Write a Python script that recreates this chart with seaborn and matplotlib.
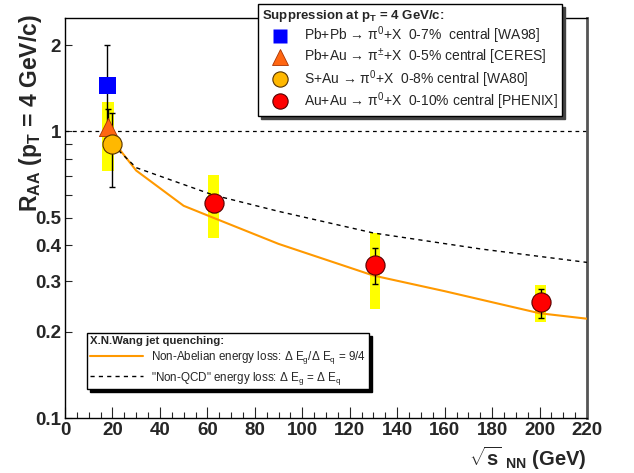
import numpy as np
import pandas as pd
import matplotlib
matplotlib.use("Agg")
import matplotlib.pyplot as plt
import seaborn as sns
from matplotlib.lines import Line2D
from matplotlib.ticker import FixedLocator, NullFormatter

# ---------------- data ----------------
wa98_x = [17.9]
wa98_y = [1.44]
wa98_lo = [0.95]
wa98_hi = [2.0]

ceres_x = [18.2]
ceres_y = [1.035]
ceres_lo = [0.90]
ceres_hi = [1.20]
ceres_band_lo = [0.727]
ceres_band_hi = [1.266]

wa80_x = [19.8]
wa80_y = [0.90]
wa80_lo = [0.642]
wa80_hi = [1.156]

phenix_x = [62.6, 130.6, 200.5]
phenix_y = [0.561, 0.343, 0.253]
phenix_lo = [0.522, 0.293, 0.224]
phenix_hi = [0.602, 0.392, 0.283]
phenix_band_lo = [0.424, 0.241, 0.216]
phenix_band_hi = [0.702, 0.442, 0.292]

nonab_x = [20, 30, 50, 62.4, 90, 100, 130, 160, 200, 220]
nonab_y = [0.93, 0.73, 0.55, 0.50, 0.405, 0.38, 0.314, 0.277, 0.232, 0.222]

nonqcd_x = [20, 30, 62.4, 90, 130, 175, 220]
nonqcd_y = [0.90, 0.747, 0.60, 0.526, 0.442, 0.389, 0.349]

x_ticks = list(range(0, 221, 20))
y_ticks = [0.1, 0.2, 0.3, 0.4, 0.5, 1, 2]
y_tick_labels = ["0.1", "0.2", "0.3", "0.4", "0.5", "1", "2"]
y_minor = [0.6, 0.7, 0.8, 0.9]

legend1_labels = [
    r"Pb+Pb → π$^0$+X  0-7%  central [WA98]",
    r"Pb+Au → π$^{\pm}$+X  0-5% central [CERES]",
    r"S+Au → π$^0$+X  0-8% central [WA80]",
    r"Au+Au → π$^0$+X  0-10% central [PHENIX]",
]
legend2_labels = [
    r"Non-Abelian energy loss: Δ E$_{\rm g}$/Δ E$_{\rm q}$ = 9/4",
    r'"Non-QCD" energy loss: Δ E$_{\rm g}$ = Δ E$_{\rm q}$',
]

# ---------------- style ----------------
sns.set_theme(style="ticks")
plt.rcParams['font.family'] = ['Liberation Sans', 'DejaVu Sans']
plt.rcParams['mathtext.fontset'] = 'custom'
plt.rcParams['mathtext.rm'] = 'Liberation Sans'
plt.rcParams['mathtext.it'] = 'Liberation Sans:italic'
plt.rcParams['mathtext.bf'] = 'Liberation Sans:bold'
plt.rcParams['mathtext.sf'] = 'Liberation Sans'

fig = plt.figure(figsize=(6.34, 4.73), dpi=100)
ax = fig.add_axes([65 / 634, 1 - 418 / 473, 522 / 634, (418 - 18.3) / 473])
ax.set_yscale('log')
ax.set_xlim(0, 220)
ax.set_ylim(0.1, 2.48)

yellow = '#ffff00'
# systematic bands
band_x = ceres_x + phenix_x
band_lo = np.array(ceres_band_lo + phenix_band_lo)
band_hi = np.array(ceres_band_hi + phenix_band_hi)
band_w = [5.0, 4.4, 4.4, 4.6]
ax.bar(band_x, band_hi - band_lo, bottom=band_lo, width=band_w,
       color=yellow, edgecolor='none', zorder=1)

# reference line at 1
ax.axhline(1.0, color='black', lw=0.9, ls=(0, (3, 3)), zorder=2)

# theory curves
curves = pd.concat([
    pd.DataFrame({'x': nonab_x, 'y': nonab_y, 'model': 'nonab'}),
    pd.DataFrame({'x': nonqcd_x, 'y': nonqcd_y, 'model': 'nonqcd'}),
])
sns.lineplot(data=curves[curves.model == 'nonab'], x='x', y='y', ax=ax,
             color='#ff9900', lw=1.5, zorder=3, legend=False)
sns.lineplot(data=curves[curves.model == 'nonqcd'], x='x', y='y', ax=ax,
             color='black', lw=1.0, ls=(0, (3, 3)), zorder=3, legend=False)

# error bars
def ebar(xs, ys, lo, hi):
    ys = np.array(ys)
    ax.errorbar(xs, ys, yerr=[ys - np.array(lo), np.array(hi) - ys], fmt='none',
                ecolor='black', elinewidth=1.0, capsize=2, capthick=1.0, zorder=4)

ebar(wa98_x, wa98_y, wa98_lo, wa98_hi)
ebar(ceres_x, ceres_y, ceres_lo, ceres_hi)
ebar(wa80_x, wa80_y, wa80_lo, wa80_hi)
ebar(phenix_x, phenix_y, phenix_lo, phenix_hi)

# markers
c_sq = '#0000ff'
c_tri = '#ff6611'
c_gold = '#ffb800'
c_red = '#ff0000'
sns.scatterplot(x=wa98_x, y=wa98_y, ax=ax, marker='s', s=150, color=c_sq,
                edgecolor='none', zorder=5)
sns.scatterplot(x=ceres_x, y=ceres_y, ax=ax, marker='^', s=170, color=c_tri,
                edgecolor='#aa3300', linewidth=0.6, zorder=5)
sns.scatterplot(x=wa80_x, y=wa80_y, ax=ax, marker='o', s=190, color=c_gold,
                edgecolor='#553300', linewidth=0.8, zorder=5)
sns.scatterplot(x=phenix_x, y=phenix_y, ax=ax, marker='o', s=190, color=c_red,
                edgecolor='#550000', linewidth=0.8, zorder=5)

# ---------------- axes ----------------
ax.set_xticks(x_ticks)
ax.set_xticklabels([str(v) for v in x_ticks], fontweight='bold', fontsize=13.5)
ax.xaxis.set_minor_locator(FixedLocator(list(range(0, 221, 5))))
ax.yaxis.set_major_locator(FixedLocator(y_ticks))
ax.set_yticklabels(y_tick_labels, fontweight='bold', fontsize=13.5)
ax.yaxis.set_minor_locator(FixedLocator(y_minor))
ax.yaxis.set_minor_formatter(NullFormatter())
ax.tick_params(axis='x', which='major', direction='in', length=8, width=0.8,
               pad=3, top=False)
ax.tick_params(axis='x', which='minor', direction='in', length=4, width=0.8,
               top=False)
ax.tick_params(axis='y', which='both', direction='in', length=5, width=0.8,
               pad=3, right=False)
for s in ['left', 'bottom', 'top']:
    ax.spines[s].set_color('black')
    ax.spines[s].set_linewidth(1.0)
    ax.spines[s].set_visible(True)
ax.spines['right'].set_visible(True)
ax.spines['right'].set_color('#555555')
ax.spines['right'].set_linewidth(2.0)

ax.set_ylabel(r"R$_{\mathbf{AA}}$ (p$_{\mathbf{T}}$ = 4 GeV/c)",
              fontweight='bold', fontsize=16.5)
ax.yaxis.set_label_coords(-0.04, 0.763)
xl = ax.set_xlabel(r"$\sqrt{\mathbf{s}}$ $_{\mathbf{NN}}$ (GeV)",
                   fontweight='bold', fontsize=14.5)
ax.xaxis.set_label_coords(1.0, -0.066)
xl.set_horizontalalignment('right')
xl.set_verticalalignment('top')

# ---------------- legends ----------------
h1 = [
    Line2D([], [], ls='none', marker='s', ms=10, color=c_sq, mec='none'),
    Line2D([], [], ls='none', marker='^', ms=11, color=c_tri, mec='#aa3300', mew=0.6),
    Line2D([], [], ls='none', marker='o', ms=11, color=c_gold, mec='#553300', mew=0.8),
    Line2D([], [], ls='none', marker='o', ms=11, color=c_red, mec='#550000', mew=0.8),
]
leg1 = ax.legend(h1, legend1_labels, loc='upper left',
                 bbox_to_anchor=(258 / 634, 1 - 4 / 473),
                 bbox_transform=fig.transFigure, fontsize=10,
                 title=r"Suppression at p$_{\mathbf{T}}$ = 4 GeV/c:",
                 title_fontproperties={'weight': 'bold', 'size': 9.5},
                 alignment='left', frameon=True, fancybox=False,
                 shadow={'color': '#444444', 'alpha': 1.0},
                 edgecolor='black', framealpha=1.0, borderpad=0.3,
                 labelspacing=0.05, handlelength=2.6, handletextpad=0.4,
                 borderaxespad=0)
leg1.get_frame().set_linewidth(1.0)
leg1.set_zorder(10)
ax.add_artist(leg1)

h2 = [
    Line2D([], [], color='#ff9900', lw=1.5),
    Line2D([], [], color='black', lw=1.0, ls=(0, (3, 3))),
]
leg2 = ax.legend(h2, legend2_labels, loc='upper left',
                 bbox_to_anchor=(87 / 634, 1 - 333 / 473),
                 bbox_transform=fig.transFigure, fontsize=8.4,
                 title="X.N.Wang jet quenching:",
                 title_fontproperties={'weight': 'bold', 'size': 8.2},
                 alignment='left', frameon=True, fancybox=False,
                 shadow={'color': 'black', 'alpha': 1.0},
                 edgecolor='black', framealpha=1.0, borderpad=0.22,
                 labelspacing=0.3, handlelength=4.6, handletextpad=0.7,
                 borderaxespad=0)
leg2.get_frame().set_linewidth(1.0)
leg2.set_zorder(10)

fig.savefig("out.png", dpi=100)
